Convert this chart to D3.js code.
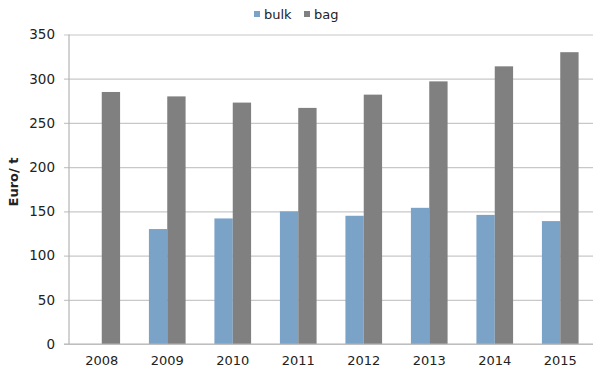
<!DOCTYPE html>
<html><head><meta charset="utf-8">
<script src="https://cdn.jsdelivr.net/npm/d3@7"></script>
<style>body{margin:0;background:#fff}svg{display:block}text{font-family:"DejaVu Sans",sans-serif}</style>
</head><body><svg id="c" width="600" height="376"></svg>
<script>
const years = ["2008","2009","2010","2011","2012","2013","2014","2015"];
const bulk = [null,130,142,150,145,154,146,139];
const bag = [285,280,273,267,282,297,314,330];
const yTicks = [0,50,100,150,200,250,300,350];
const seriesNames = ["bulk","bag"];
const colors = {bulk:"#7ba3c7", bag:"#808080"};

const svg = d3.select("#c");
const L = 69, R = 593, T = 34.5, B = 344;
const x0 = d3.scaleBand().domain(years).range([L,R]);
const bw = x0.bandwidth()*0.28;
const x1 = d3.scaleBand().domain(seriesNames).range([-bw, bw]);
const y = d3.scaleLinear().domain([0,350]).range([B,T]);

// gridlines + y labels
const ya = svg.append("g").attr("transform",`translate(${L-5},0)`)
  .call(d3.axisLeft(y).tickValues(yTicks).tickSize(-(R-L+5)).tickPadding(9));
ya.select(".domain").remove();
ya.selectAll(".tick line").attr("stroke","#c8c8c8").attr("stroke-width",1.2);
ya.selectAll(".tick text").attr("font-size",13.5).attr("fill","#222");

// bars
const rows = years.map((yr,i)=>({yr, bulk:bulk[i], bag:bag[i]}));
seriesNames.forEach(s=>{
  svg.append("g").selectAll("rect").data(rows.filter(d=>d[s]!=null)).join("rect")
    .attr("x",d=>x0(d.yr)+x0.bandwidth()/2+x1(s))
    .attr("width",x1.bandwidth())
    .attr("y",d=>y(d[s]))
    .attr("height",d=>B-y(d[s]))
    .attr("fill",colors[s]);
});

// axis lines
svg.append("line").attr("x1",L).attr("x2",L).attr("y1",T).attr("y2",B).attr("stroke","#b4b4b4").attr("stroke-width",1.2);
svg.append("line").attr("x1",L-5).attr("x2",R).attr("y1",B).attr("y2",B).attr("stroke","#b4b4b4").attr("stroke-width",1.2);

// x labels
const xa = svg.append("g").attr("transform",`translate(0,${B})`)
  .call(d3.axisBottom(x0).tickSize(0).tickPadding(12));
xa.select(".domain").remove();
xa.selectAll(".tick text").attr("font-size",13).attr("fill","#222");

// y title
svg.append("text").attr("transform","translate(18,182) rotate(-90)")
  .attr("text-anchor","middle").attr("font-size",13).attr("font-weight","bold")
  .attr("font-family","'Liberation Sans',Arial,sans-serif").attr("fill","#222").text("Euro/ t");

// legend
const leg = [{s:"bulk",x:254},{s:"bag",x:304}];
leg.forEach(l=>{
  svg.append("rect").attr("x",l.x).attr("y",11).attr("width",6).attr("height",6).attr("fill",colors[l.s]);
  svg.append("text").attr("x",l.x+10).attr("y",18.5).attr("font-size",13).attr("fill","#222").text(l.s);
});
</script></body></html>
